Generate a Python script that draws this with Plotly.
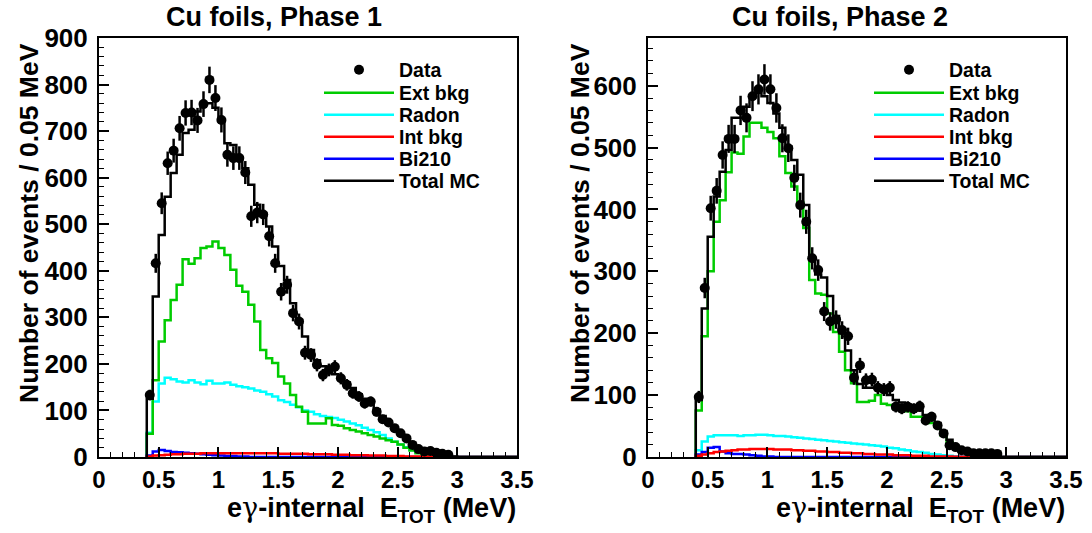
import numpy as np
import plotly.graph_objects as go

# ---------------- binning ----------------
BIN_W = 0.05
E_START = 0.40      # first filled bin (MeV)
E_END = 3.50
N_BINS = int(round((E_END - E_START) / BIN_W))

tick_vals = [0, 0.5, 1, 1.5, 2, 2.5, 3, 3.5]
tick_text = ["0", "0.5", "1", "1.5", "2", "2.5", "3", "3.5"]
legend_names = ["Data", "Ext bkg", "Radon", "Int bkg", "Bi210", "Total MC"]

# ---------------- Phase 1 (bins of 0.05 MeV starting at 0.40 MeV) ----------------
p1_data = [133, 416, 545, 631, 658, 706, 739, 740, 723, 758, 810, 771, 724, 649, 642, 642,
           611, 517, 525, 521, 474, 416, 355, 370, 309, 291, 224, 219, 198, 176, 187, 194,
           169, 155, 137, 130, 115, 119, 97, 81, 74, 62, 51, 40, 26, 17, 12, 13, 9, 7, 5]
p1_ext = [50, 165, 248, 294, 337, 370, 425, 415, 427, 449, 452, 463, 449, 434, 402, 368,
          355, 327, 291, 230, 212, 202, 173, 158, 133, 108, 97, 72, 72, 72, 83, 69,
          67, 62, 58, 55, 51, 47, 44, 40, 36, 33, 27, 20, 14, 8, 4, 2, 1]
p1_radon = [52, 119, 158, 170, 167, 162, 160, 165, 160, 156, 164, 158, 158, 160, 155, 152,
            150, 147, 143, 140, 135, 130, 122, 118, 112, 107, 100, 97, 92, 88, 86, 84,
            80, 76, 72, 68, 63, 58, 53, 47, 40, 33, 27, 21, 15, 10, 6, 3, 2, 1]
p1_int = [1, 3, 4, 5, 6, 6, 7, 7, 7, 8, 8, 8, 8, 8, 8, 8, 8, 8, 8, 8, 8, 8, 7, 7, 7, 7, 7,
          6, 6, 6, 6, 5, 5, 5, 4, 4, 4, 3, 3, 3, 2, 2, 2, 1, 1, 1, 1, 0.5]
p1_bi210 = [3, 12, 15, 13, 11, 10, 9, 8, 7, 6, 5, 4, 3, 2, 2, 1, 1]
p1_total = [125, 345, 477, 559, 610, 649, 696, 703, 742, 760, 760, 750, 721, 674, 670, 638,
            620, 585, 542, 524, 495, 452, 410, 380, 330, 295, 259, 230, 208, 195, 185, 178,
            170, 160, 148, 135, 125, 115, 102, 88, 76, 64, 52, 40, 28, 18, 11, 7, 5, 3, 2, 1]

# ---------------- Phase 2 ----------------
p2_data = [97, 273, 402, 430, 488, 514, 514, 560, 548, 583, 594, 610, 594, 564, 515, 499,
           451, 407, 380, 321, 302, 235, 219, 222, 205, 195, 128, 148, 124, 125, 112, 109,
           112, 81, 78, 81, 78, 82, 59, 65, 51, 38, 19, 16, 11, 9, 6, 6, 6, 6, 5]
p2_ext = [75, 195, 300, 380, 415, 460, 492, 490, 518, 540, 540, 532, 525, 515, 486, 459,
          437, 412, 370, 286, 264, 262, 232, 202, 170, 140, 119, 89, 89, 91, 100, 86,
          84, 78, 76, 74, 65, 65, 57, 55, 49, 35, 24, 16, 11, 7, 4, 2, 1]
p2_radon = [11, 25, 33, 35, 35, 35, 35, 34, 35, 35, 36, 36, 35, 34, 34, 33, 32, 31, 30, 29,
            28, 27, 26, 25, 24, 23, 22, 21, 20, 19, 18, 17, 15, 14, 12, 11, 9, 8, 7, 5,
            4, 3, 2, 1, 1]
p2_int = [2, 4, 6, 8, 9, 10, 11, 12, 12, 13, 13, 13, 13, 12, 12, 12, 11, 11, 10, 10, 9, 9,
          8, 8, 7, 7, 6, 6, 5, 5, 4, 4, 4, 3, 3, 3, 2, 2, 2, 1, 1, 1, 1, 0.5, 0.5]
p2_bi210 = [4, 8, 15, 16, 9, 6, 5, 5, 4, 3, 2, 1, 1]
p2_total = [92, 240, 356, 421, 461, 496, 548, 548, 566, 583, 589, 583, 572, 555, 532, 502,
            480, 456, 407, 320, 295, 290, 260, 228, 200, 172, 140, 118, 112, 112, 115, 108,
            100, 92, 88, 85, 80, 75, 68, 62, 55, 42, 28, 18, 12, 8, 5, 3, 2, 1, 1]

COLORS = {"Ext bkg": "#00cc00", "Radon": "#00ffff", "Int bkg": "#ff0000",
          "Bi210": "#0000ff", "Total MC": "#000000"}

edges = E_START + BIN_W * np.arange(N_BINS + 1)
centers = E_START + BIN_W * (np.arange(N_BINS) + 0.5)


def step_xy(values):
    v = np.zeros(N_BINS)
    v[:len(values)] = values
    x = np.concatenate([[edges[0]], edges])
    y = np.concatenate([[0.0], v, [v[-1]]])
    return x, y


W, H = 1092, 533
L1, R1 = 99, 517
L2, R2 = 648, 1066
TOP, BOT = 38, 457
LEG_X = [319, 869]                       # left edge of legend block per panel (px)
LEG_ROWS = [70, 93, 115, 137, 159, 181]  # row centres (px from top)

font_family = "Liberation Sans, Arial, Helvetica, sans-serif"
legend_font = dict(family=font_family, size=19.5, color="black", weight="bold")


def legend_key(panel, row):
    n = panel * 6 + row + 1
    return "legend" if n == 1 else f"legend{n}"


fig = go.Figure()

panels = [
    dict(xa="x", ya="y", data=p1_data, ext=p1_ext, radon=p1_radon,
         intb=p1_int, bi=p1_bi210, tot=p1_total),
    dict(xa="x2", ya="y2", data=p2_data, ext=p2_ext, radon=p2_radon,
         intb=p2_int, bi=p2_bi210, tot=p2_total),
]

legend_layouts = {}
for pi, p in enumerate(panels):
    comps = [("Radon", p["radon"]), ("Ext bkg", p["ext"]), ("Bi210", p["bi"]),
             ("Int bkg", p["intb"]), ("Total MC", p["tot"])]
    for name, vals in comps:
        x, y = step_xy(vals)
        fig.add_trace(go.Scatter(
            x=x, y=y, mode="lines", name=name,
            line=dict(color=COLORS[name], width=2.5, shape="hv"),
            xaxis=p["xa"], yaxis=p["ya"], legend=legend_key(pi, legend_names.index(name)),
            hoverinfo="skip"))
    d = np.array(p["data"], dtype=float)
    fig.add_trace(go.Scatter(
        x=centers[:len(d)], y=d, mode="markers", name="Data",
        marker=dict(color="black", size=10),
        error_y=dict(type="data", array=np.sqrt(d), color="black", thickness=2.5, width=0),
        xaxis=p["xa"], yaxis=p["ya"], legend=legend_key(pi, 0)))
    for row, yc in enumerate(LEG_ROWS):
        legend_layouts[legend_key(pi, row)] = dict(
            x=LEG_X[pi] / W, y=(H - yc) / H, xanchor="left", yanchor="middle",
            itemwidth=70, bgcolor="rgba(0,0,0,0)", borderwidth=0, font=legend_font)

tickfont_x = dict(family=font_family, size=24, color="black", weight="bold")
tickfont_y = dict(family=font_family, size=26, color="black", weight="bold")

common_x = dict(range=[0, E_END], tickvals=tick_vals, ticktext=tick_text, ticks="inside",
                ticklen=10, tickwidth=1.5, tickcolor="black", showline=True, linewidth=2,
                linecolor="black", mirror=True, showgrid=False, zeroline=False,
                tickfont=tickfont_x, automargin=False,
                minor=dict(dtick=0.1, ticks="inside", ticklen=5, tickwidth=1.2, tickcolor="black"))
common_y = dict(ticks="inside", ticklen=10, tickwidth=1.5, tickcolor="black", showline=True,
                linewidth=2, linecolor="black", mirror=True, showgrid=False, zeroline=False,
                tickfont=tickfont_y, dtick=100, automargin=False, ticklabelstandoff=4,
                minor=dict(dtick=20, ticks="inside", ticklen=5, tickwidth=1.2, tickcolor="black"))

ydom = [(H - BOT) / H, (H - TOP) / H]
fig.update_layout(
    width=W, height=H, margin=dict(l=0, r=0, t=0, b=0, autoexpand=False),
    paper_bgcolor="white", plot_bgcolor="white",
    xaxis=dict(domain=[L1 / W, R1 / W], anchor="y", **common_x),
    yaxis=dict(domain=ydom, anchor="x", range=[0, 900], **common_y),
    xaxis2=dict(domain=[L2 / W, R2 / W], anchor="y2", **common_x),
    yaxis2=dict(domain=ydom, anchor="x2", range=[0, 677], **common_y),
    showlegend=True,
    **legend_layouts,
)

title_font = dict(family=font_family, size=27, color="black", weight="bold")
axis_font = dict(family=font_family, size=26.5, color="black", weight="bold")
xaxis_font = dict(family=font_family, size=27, color="black", weight="bold")
xtitle = ("e<span style=\"font-family:DejaVu Serif;font-weight:normal\">γ</span>-internal"
          "&nbsp;&nbsp;E<sub>TOT</sub> (MeV)")
annots = [
    dict(text="Cu foils, Phase 1", x=274 / W, y=(H - 17) / H, font=title_font),
    dict(text="Cu foils, Phase 2", x=840 / W, y=(H - 17) / H, font=title_font),
    dict(text="Number of events / 0.05 MeV", x=29 / W, y=(H - 223) / H, textangle=-90, font=axis_font),
    dict(text="Number of events / 0.05 MeV", x=580 / W, y=(H - 223) / H, textangle=-90, font=axis_font),
    dict(text=xtitle, x=(R1 + 1) / W, y=(H - 509) / H, xanchor="right", font=xaxis_font),
    dict(text=xtitle, x=(R2 + 1) / W, y=(H - 509) / H, xanchor="right", font=xaxis_font),
]
for a in annots:
    a.setdefault("xanchor", "center")
    a.setdefault("yanchor", "middle")
    fig.add_annotation(xref="paper", yref="paper", showarrow=False, **a)

fig.write_html("out.html", config={"displayModeBar": False},
               post_script="document.body.style.margin='0px';")
